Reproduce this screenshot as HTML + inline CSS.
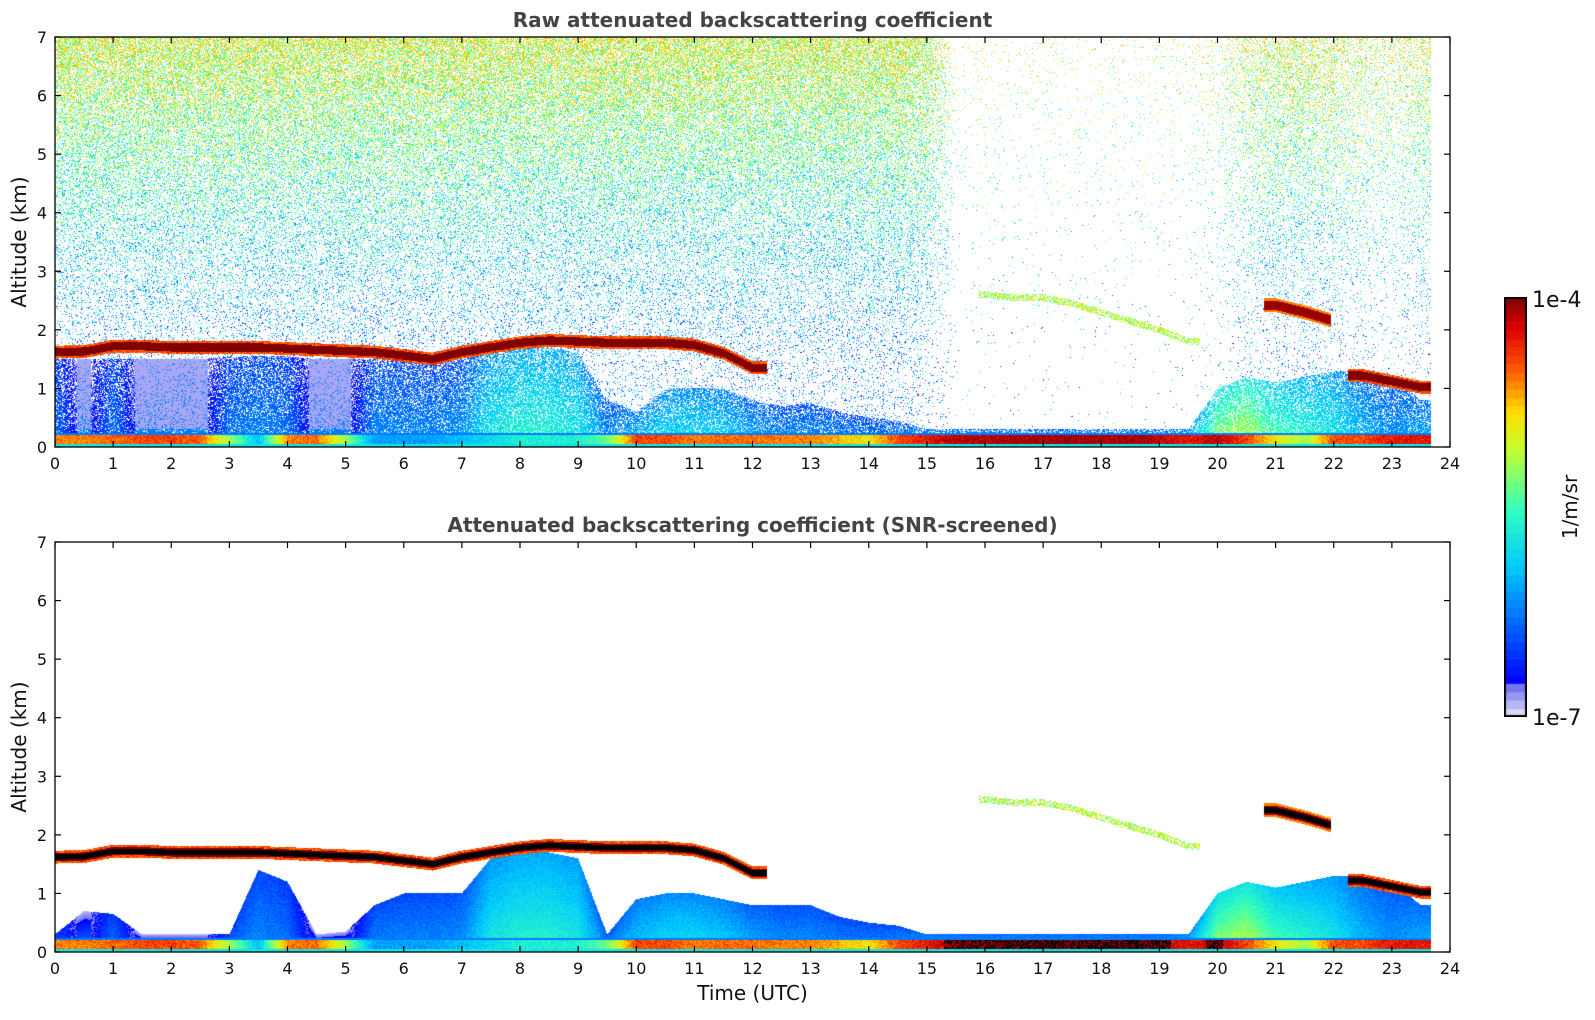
<!DOCTYPE html>
<html><head><meta charset="utf-8">
<style>
body{margin:0;background:#fff;width:1595px;height:1020px;overflow:hidden;position:relative;font-family:"DejaVu Sans","Liberation Sans",sans-serif}
canvas{position:absolute}
svg{position:absolute;left:0;top:0;font-family:"DejaVu Sans","Liberation Sans",sans-serif}
</style></head>
<body>
<canvas id="c1" width="1395" height="410" style="left:55px;top:37px"></canvas>
<canvas id="c2" width="1395" height="410" style="left:55px;top:542px"></canvas>
<canvas id="cb" width="23" height="420" style="left:1504px;top:297px"></canvas>
<svg id="ax" width="1595" height="1020"></svg>
<script>
// ---- data (per 0.5 h, 0..24 h) ----
const hours = [0,0.5,1,1.5,2,2.5,3,3.5,4,4.5,5,5.5,6,6.5,7,7.5,8,8.5,9,9.5,10,10.5,11,11.5,12,12.5,13,13.5,14,14.5,15,15.5,16,16.5,17,17.5,18,18.5,19,19.5,20,20.5,21,21.5,22,22.5,23,23.5,24];
const cloudBase = [1.62,1.63,1.72,1.72,1.7,1.7,1.7,1.7,1.68,1.66,1.64,1.62,1.56,1.5,1.62,1.7,1.78,1.82,1.8,1.78,1.78,1.78,1.74,1.6,1.35,0,0,0,0,0,0,0,0,0,0,0,0,0,0,0,0,0,0,0,0,1.22,1.12,1.02,0];
const upperCloud = [0,0,0,0,0,0,0,0,0,0,0,0,0,0,0,0,0,0,0,0,0,0,0,0,0,0,0,0,0,0,0,0,0,0,0,0,0,0,0,0,0,0,2.42,2.3,2.15,0,0,0,0];
const thinLayer = [0,0,0,0,0,0,0,0,0,0,0,0,0,0,0,0,0,0,0,0,0,0,0,0,0,0,0,0,0,0,0,0,2.6,2.55,2.55,2.45,2.3,2.15,2.0,1.8,0,0,0,0,0,0,0,0,0];
const aerosolTop = [1.5,1.5,1.5,1.5,1.5,1.5,1.55,1.55,1.55,1.5,1.5,1.5,1.45,1.4,1.5,1.6,1.7,1.7,1.6,0.8,0.6,1.0,1.0,1.0,0.8,0.7,0.75,0.6,0.5,0.45,0.3,0.3,0.3,0.3,0.3,0.3,0.3,0.3,0.3,0.3,1.0,1.2,1.1,1.2,1.3,1.3,1.2,0.8,0];
const snrTop = [0.3,0.7,0.65,0.3,0.3,0.3,0.3,1.4,1.2,0.3,0.35,0.8,1.0,1.0,1.0,1.6,1.7,1.7,1.6,0.3,0.9,1.0,1.0,0.9,0.8,0.8,0.8,0.6,0.5,0.45,0.3,0.3,0.3,0.3,0.3,0.3,0.3,0.3,0.3,0.3,1.0,1.2,1.1,1.2,1.3,1.3,1.2,0.8,0];
const aerosolLevel = [0.25,0.05,0.25,0.05,0.05,0.05,0.25,0.28,0.25,0.05,0.06,0.28,0.28,0.28,0.3,0.45,0.48,0.48,0.45,0.3,0.38,0.42,0.42,0.4,0.33,0.3,0.3,0.28,0.28,0.3,0.35,0.35,0.35,0.35,0.35,0.35,0.35,0.35,0.35,0.4,0.62,0.66,0.55,0.5,0.45,0.35,0.3,0.35,0];
const surfaceLevel = [0.8,0.8,0.82,0.85,0.85,0.82,0.6,0.35,0.8,0.82,0.6,0.3,0.3,0.3,0.35,0.4,0.45,0.45,0.45,0.55,0.85,0.85,0.8,0.82,0.82,0.8,0.8,0.75,0.7,0.85,0.9,0.95,0.95,0.97,0.97,0.97,0.97,0.97,0.95,0.9,0.95,0.85,0.7,0.6,0.85,0.85,0.9,0.9,0];
const noiseLevel = [1,1,1,1,1,1,1,1,1,1,1,1,1,1,1,1,1,1,1,1,1,1,1,1,1,1,1,1,1,1,0.8,0.05,0.05,0.05,0.05,0.05,0.05,0.05,0.05,0.06,0.15,0.4,0.6,0.6,0.55,0.35,0.3,0.5,0];
const xTicks = [0,1,2,3,4,5,6,7,8,9,10,11,12,13,14,15,16,17,18,19,20,21,22,23,24];
const yTicks = [0,1,2,3,4,5,6,7];

const L=55,R=1450,P1=[37,447],P2=[542,952],TMAX=24,ZMAX=7,DATA_END=23.68;
const xs = t => L + (R-L)*t/TMAX;
function interp(arr,t){const i=Math.min(Math.floor(t/0.5),arr.length-2);const f=t/0.5-i;const a=arr[i],b=arr[i+1];if(a===0||b===0)return f<0.5?a:b;return a+(b-a)*f;}
function hash(x,y){let h=(x*374761393+y*668265263)|0;h=(h^(h>>>13))*1274126177|0;return ((h^(h>>>16))>>>0)/4294967296;}
const stops=[[0,[0,0,255]],[0.3,[0,200,255]],[0.45,[48,255,192]],[0.6,[192,255,48]],[0.7,[255,224,0]],[0.82,[255,80,0]],[0.92,[220,0,0]],[1,[128,0,0]]];
function cmap(v){
  if(v<0.08){const f=v/0.08;return [Math.round(232-130*f),Math.round(232-130*f),Math.round(250-10*f)];}
  const s=(v-0.08)/0.92;
  for(let i=1;i<stops.length;i++){if(s<=stops[i][0]){const a=stops[i-1],b=stops[i];const f=(s-a[0])/(b[0]-a[0]);return a[1].map((c,k)=>Math.round(c+(b[1][k]-c)*f));}}
  return [128,0,0];
}
function value(t,z,px,py,raw){
  const h=hash(px,py), h2=hash(py+7,px+13);
  const cb=interp(cloudBase,t);
  if(cb>0){const d=Math.abs(z-cb);if(d<0.07)return (!raw&&d<0.045)?-1:1;if(d<0.11)return 0.78+h*0.12;}
  const uc=interp(upperCloud,t);
  if(uc>0&&t>20.8&&t<21.95){const d=Math.abs(z-uc);if(d<0.08)return (!raw&&d<0.05)?-1:0.98;if(d<0.12)return 0.8;}
  const tl=interp(thinLayer,t);
  if(tl>0&&t>15.9&&t<19.7){const d=Math.abs(z-tl);if(d<0.06&&h<0.6)return 0.5+h2*0.25;}
  if(z<0.24){const s=interp(surfaceLevel,t);if(z<0.05)return 0.42;if(z>0.2)return 0.25;return (!raw&&s>0.93&&h<0.5)?-1:s+(h-0.5)*0.12;}
  const top=raw?interp(aerosolTop,t):interp(snrTop,t);
  const lev=interp(aerosolLevel,t);
  if(z<top){
    let v=lev*(1-0.35*z/top)+(h2-0.5)*0.08;
    if(lev<0.1){ if(!raw) v=0.25*(1-z/top)+0.03; else if(z<0.3) v=0.25; else return h<0.2*(1-z/top)+0.05?0.25:0.04;}
    if(raw&&h<0.12+0.3*z/top)return null;
    return Math.max(0.02,v);
  }
  if(!raw)return null;
  const nf=interp(noiseLevel,t);
  const fr=Math.min(1,Math.max(0,(z-1.0)/6));
  const p=nf*(0.1+0.5*Math.pow(fr,1.6));
  if(h<p)return Math.min(0.76,0.22+0.45*fr+(h2-0.5)*0.4);
  return null;
}
function drawPlot(id,raw){
  const c=document.getElementById(id),ctx=c.getContext('2d');
  const W=c.width,H=c.height,img=ctx.createImageData(W,H),d=img.data;
  for(let px=0;px<W;px++){
    const t=(px+0.5)/W*TMAX; if(t>DATA_END)continue;
    for(let py=0;py<H;py++){
      const z=ZMAX*(1-(py+0.5)/H);
      const v=value(t,z,px,py,raw); if(v===null)continue;
      const col=v<0?[0,0,0]:cmap(Math.min(1,Math.max(0,v)));
      const k=(py*W+px)*4;d[k]=col[0];d[k+1]=col[1];d[k+2]=col[2];d[k+3]=255;
    }
  }
  ctx.putImageData(img,0,0);
}
drawPlot('c1',true);drawPlot('c2',false);
(function(){const c=document.getElementById('cb'),ctx=c.getContext('2d');const n=50;const h=c.height/n;
for(let i=0;i<n;i++){const v=(i+0.5)/n;const col=cmap(v);ctx.fillStyle=`rgb(${col})`;ctx.fillRect(0,c.height-(i+1)*h,23,h+0.5);}
ctx.strokeStyle='#000';ctx.lineWidth=2;ctx.strokeRect(1,1,21,c.height-2);})();
const svg=document.getElementById('ax');const NS='http://www.w3.org/2000/svg';
function el(tag,attrs,text){const e=document.createElementNS(NS,tag);for(const k in attrs)e.setAttribute(k,attrs[k]);if(text!==undefined)e.textContent=text;svg.appendChild(e);return e;}
function axes(P,title,pname,showXLabel){
  const [T,B]=P;const ys=z=>B-(B-T)*z/ZMAX;
  const fr=el('rect',{x:L,y:T,width:R-L,height:B-T,fill:'none',stroke:'#000','stroke-width':1.3});
  
  xTicks.forEach(t=>{const x=xs(t);
    el('line',{x1:x,x2:x,y1:B,y2:B-6,stroke:'#000','stroke-width':1.2});
    el('line',{x1:x,x2:x,y1:T,y2:T+6,stroke:'#000','stroke-width':1.2});
    const tx=el('text',{x:x,y:B+22,'text-anchor':'middle','font-size':16,fill:'#111'},String(t));
    });
  yTicks.forEach(z=>{const y=ys(z);
    el('line',{x1:L,x2:L+6,y1:y,y2:y,stroke:'#000','stroke-width':1.2});
    el('line',{x1:R,x2:R-6,y1:y,y2:y,stroke:'#000','stroke-width':1.2});
    const tx=el('text',{x:L-8,y:y+6,'text-anchor':'end','font-size':16,fill:'#111'},String(z));
    });
  const tt=el('text',{x:(L+R)/2,y:T-10,'text-anchor':'middle','font-size':20,'font-weight':'bold',fill:'#444'},title);
  
  const yl=el('text',{x:0,y:0,transform:`translate(26,${(T+B)/2}) rotate(-90)`,'text-anchor':'middle','font-size':20,fill:'#111'},'Altitude (km)');
  
  if(showXLabel){const xl=el('text',{x:(L+R)/2,y:B+48,'text-anchor':'middle','font-size':20,fill:'#111'},'Time (UTC)');
    }
}
axes(P1,'Raw attenuated backscattering coefficient','raw-plot',false);
axes(P2,'Attenuated backscattering coefficient (SNR-screened)','snr-plot',true);
const c1=el('text',{x:1532,y:307,'font-size':22,fill:'#111'},'1e-4');

const c2=el('text',{x:1532,y:725,'font-size':22,fill:'#111'},'1e-7');

const cu=el('text',{x:0,y:0,transform:'translate(1577,507) rotate(-90)','text-anchor':'middle','font-size':20,fill:'#111'},'1/m/sr');

</script>
</body></html>
